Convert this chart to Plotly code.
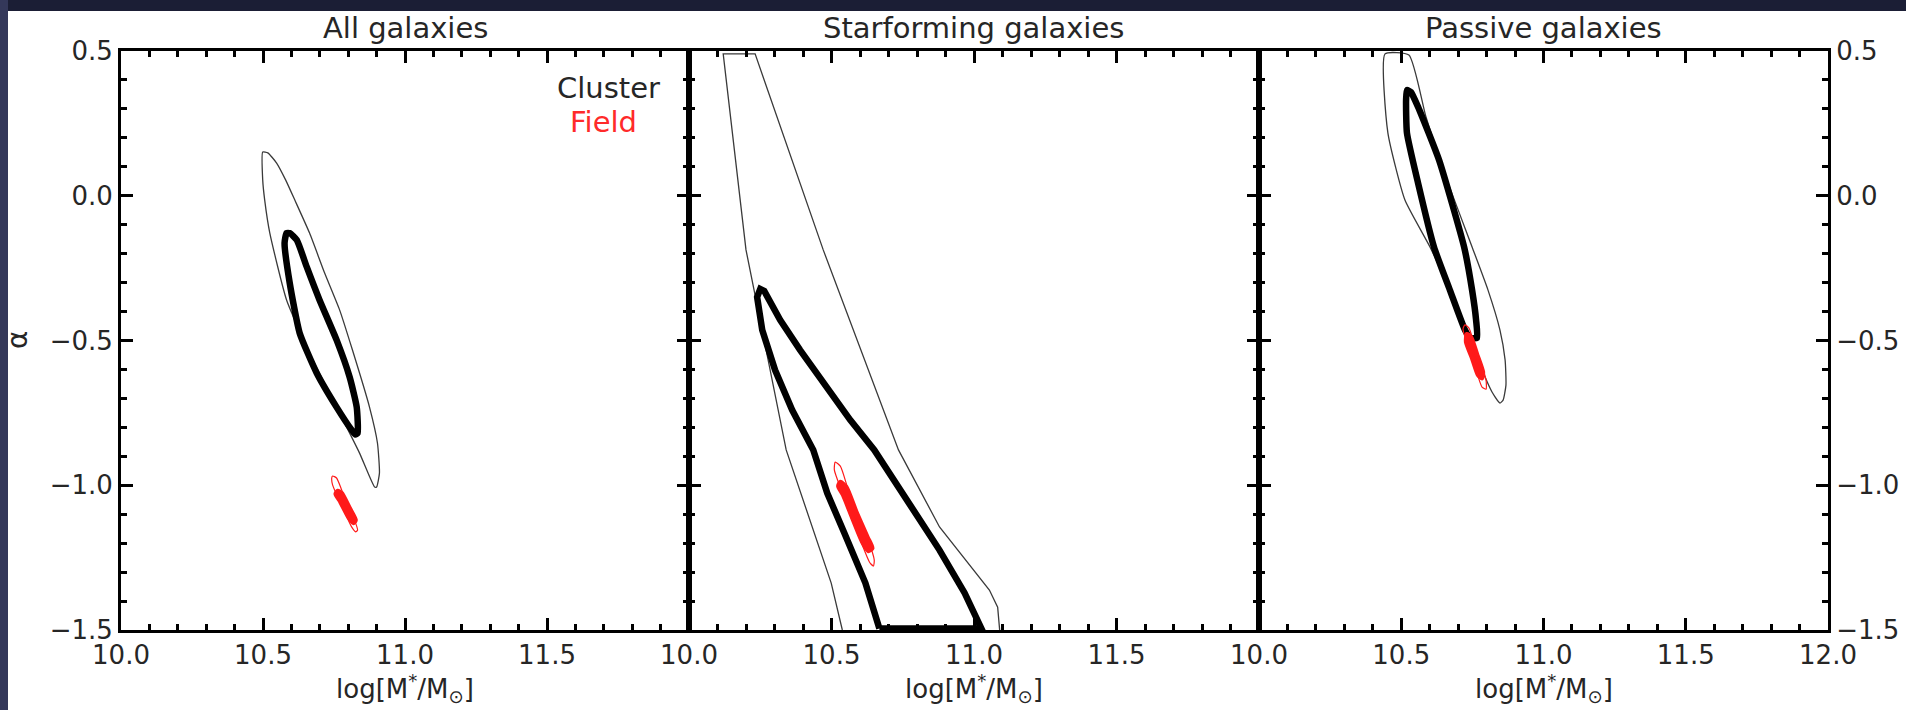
import plotly.graph_objects as go

W, H = 1906, 710

panel_titles = ["All galaxies", "Starforming galaxies", "Passive galaxies"]
x_title = "log[M<sup>*</sup>/M<sub>⊙</sub>]"
y_title = "α"
x_range = [10.0, 12.0]
y_range = [-1.5, 0.5]
x_tickvals_inner = [10.0, 10.5, 11.0, 11.5]
x_tickvals_last = [10.0, 10.5, 11.0, 11.5, 12.0]
y_tickvals = [-1.5, -1.0, -0.5, 0.0, 0.5]

# ---- Panel 1: All galaxies ----
all_cl_outer_x = [10.499, 10.517, 10.548, 10.580, 10.612, 10.664, 10.717, 10.770, 10.815, 10.875, 10.903, 10.910, 10.900, 10.893, 10.840, 10.759, 10.675, 10.583, 10.524, 10.506, 10.499, 10.499]
all_cl_outer_y = [0.151, 0.148, 0.113, 0.054, -0.015, -0.129, -0.267, -0.395, -0.533, -0.730, -0.854, -0.958, -1.006, -1.006, -0.889, -0.730, -0.567, -0.360, -0.129, -0.015, 0.054, 0.151]
all_cl_inner_x = [10.583, 10.594, 10.619, 10.654, 10.699, 10.759, 10.805, 10.830, 10.833, 10.825, 10.812, 10.759, 10.689, 10.629, 10.594, 10.576, 10.583]
all_cl_inner_y = [-0.129, -0.129, -0.153, -0.246, -0.360, -0.498, -0.626, -0.730, -0.820, -0.825, -0.809, -0.730, -0.612, -0.474, -0.301, -0.163, -0.129]
all_fd_outer_x = [10.745, 10.759, 10.777, 10.798, 10.822, 10.833, 10.826, 10.812, 10.787, 10.763, 10.745, 10.742, 10.745]
all_fd_outer_y = [-0.968, -0.975, -1.016, -1.068, -1.120, -1.155, -1.161, -1.144, -1.092, -1.041, -0.999, -0.975, -0.968]
all_fd_inner_x = [10.763, 10.777, 10.805, 10.826, 10.819, 10.801, 10.773, 10.756, 10.763]
all_fd_inner_y = [-1.020, -1.027, -1.079, -1.120, -1.130, -1.110, -1.058, -1.030, -1.020]

# ---- Panel 2: Starforming galaxies ----
sf_cl_outer_x = [10.538, 10.499, 10.341, 10.200, 10.120, 10.232, 10.471, 10.735, 10.879, 11.054, 11.083, 11.090]
sf_cl_outer_y = [-1.500, -1.338, -0.878, -0.187, 0.490, 0.490, -0.187, -0.878, -1.144, -1.362, -1.421, -1.500]
sf_cl_inner_x = [10.668, 10.619, 10.545, 10.485, 10.436, 10.362, 10.302, 10.257, 10.239, 10.250, 10.264, 10.320, 10.390, 10.478, 10.566, 10.650, 10.763, 10.879, 10.967, 11.026, 10.668]
sf_cl_inner_y = [-1.495, -1.338, -1.165, -1.027, -0.878, -0.740, -0.602, -0.464, -0.350, -0.322, -0.329, -0.429, -0.533, -0.654, -0.775, -0.878, -1.051, -1.224, -1.372, -1.495, -1.495]
sf_fd_outer_x = [10.513, 10.531, 10.559, 10.594, 10.629, 10.650, 10.647, 10.633, 10.601, 10.566, 10.534, 10.510, 10.513]
sf_fd_outer_y = [-0.920, -0.934, -1.016, -1.103, -1.189, -1.258, -1.279, -1.265, -1.189, -1.103, -1.016, -0.947, -0.920]
sf_fd_inner_x = [10.531, 10.552, 10.587, 10.626, 10.643, 10.629, 10.608, 10.573, 10.541, 10.524, 10.531]
sf_fd_inner_y = [-0.989, -1.006, -1.092, -1.179, -1.217, -1.227, -1.196, -1.113, -1.034, -1.003, -0.989]

# ---- Panel 3: Passive galaxies ----
pa_cl_outer_x = [10.443, 10.453, 10.513, 10.601, 10.671, 10.724, 10.777, 10.819, 10.847, 10.858, 10.868, 10.865, 10.847, 10.805, 10.749, 10.661, 10.587, 10.527, 10.443]
pa_cl_outer_y = [0.490, 0.217, -0.015, -0.177, -0.326, -0.446, -0.585, -0.678, -0.716, -0.706, -0.654, -0.567, -0.464, -0.326, -0.177, 0.054, 0.272, 0.486, 0.490]
pa_cl_inner_x = [10.520, 10.534, 10.559, 10.633, 10.721, 10.749, 10.763, 10.766, 10.742, 10.724, 10.671, 10.615, 10.559, 10.520, 10.517, 10.520]
pa_cl_inner_y = [0.365, 0.358, 0.307, 0.123, -0.177, -0.326, -0.429, -0.491, -0.491, -0.464, -0.326, -0.177, 0.044, 0.217, 0.331, 0.365]
pa_fd_outer_x = [10.724, 10.738, 10.756, 10.777, 10.798, 10.798, 10.784, 10.763, 10.742, 10.724, 10.717, 10.724]
pa_fd_outer_y = [-0.446, -0.457, -0.509, -0.567, -0.636, -0.668, -0.661, -0.602, -0.540, -0.488, -0.460, -0.446]
pa_fd_inner_x = [10.731, 10.745, 10.766, 10.787, 10.784, 10.770, 10.749, 10.728, 10.731]
pa_fd_inner_y = [-0.478, -0.488, -0.547, -0.609, -0.630, -0.619, -0.560, -0.505, -0.478]

legend_labels = ["Cluster", "Field"]

BLACK = "#000000"
THIN = "#3a3a3a"
RED = "#ff1a1a"
TXT = "#262626"
FONT = "DejaVu Sans"

panels = [
    (all_cl_outer_x, all_cl_outer_y, all_cl_inner_x, all_cl_inner_y,
     all_fd_outer_x, all_fd_outer_y, all_fd_inner_x, all_fd_inner_y, "spline"),
    (sf_cl_outer_x, sf_cl_outer_y, sf_cl_inner_x, sf_cl_inner_y,
     sf_fd_outer_x, sf_fd_outer_y, sf_fd_inner_x, sf_fd_inner_y, "linear"),
    (pa_cl_outer_x, pa_cl_outer_y, pa_cl_inner_x, pa_cl_inner_y,
     pa_fd_outer_x, pa_fd_outer_y, pa_fd_inner_x, pa_fd_inner_y, "spline"),
]

fig = go.Figure()
for i, (cox, coy, cix, ciy, fox, foy, fix, fiy, shp) in enumerate(panels):
    xa = "x" if i == 0 else f"x{i+1}"
    ya = "y" if i == 0 else f"y{i+1}"
    fig.add_trace(go.Scatter(x=cox, y=coy, mode="lines", xaxis=xa, yaxis=ya,
                             line=dict(color=THIN, width=1.3, shape=shp, smoothing=0.5),
                             hoverinfo="skip", showlegend=False))
    fig.add_trace(go.Scatter(x=cix, y=ciy, mode="lines", xaxis=xa, yaxis=ya,
                             line=dict(color=BLACK, width=6.5, shape=shp, smoothing=0.5),
                             hoverinfo="skip", showlegend=False))
    fig.add_trace(go.Scatter(x=fox, y=foy, mode="lines", xaxis=xa, yaxis=ya,
                             line=dict(color=RED, width=1.2, shape="spline", smoothing=0.6),
                             hoverinfo="skip", showlegend=False))
    fig.add_trace(go.Scatter(x=fix, y=fiy, mode="lines", xaxis=xa, yaxis=ya, fill="toself",
                             fillcolor=RED, line=dict(color=RED, width=4.5, shape="spline", smoothing=0.6),
                             hoverinfo="skip", showlegend=False))

# pixel layout
px_edges = [121, 689, 1259, 1828]
py_top, py_bot = 51, 630

def fx(p):
    return p / W

def fy(p):
    return 1 - p / H

ydom = [fy(py_bot), fy(py_top)]

axis_common = dict(
    showline=True, linecolor=BLACK, linewidth=3, mirror="ticks",
    ticks="inside", ticklen=12, tickwidth=3, tickcolor=BLACK,
    showgrid=False, zeroline=False, fixedrange=True, automargin=False,
    tickfont=dict(family=FONT, size=26, color=TXT),
)

layout_axes = {}
for i in range(3):
    xname = "xaxis" if i == 0 else f"xaxis{i+1}"
    yname = "yaxis" if i == 0 else f"yaxis{i+1}"
    layout_axes[xname] = dict(
        axis_common, domain=[fx(px_edges[i]), fx(px_edges[i+1])], range=x_range,
        anchor="y" if i == 0 else f"y{i+1}",
        tickmode="array", tickvals=x_tickvals_last if i == 2 else x_tickvals_inner,
        tickformat=".1f",
        minor=dict(ticks="inside", ticklen=6, tickwidth=3, tickcolor=BLACK,
                   tickmode="linear", tick0=10.0, dtick=0.1, showgrid=False),
    )
    layout_axes[yname] = dict(
        axis_common, domain=ydom, range=y_range,
        anchor="x" if i == 0 else f"x{i+1}",
        tickmode="array", tickvals=y_tickvals, tickformat=".1f",
        showticklabels=(i != 1), side="right" if i == 2 else "left",
        minor=dict(ticks="inside", ticklen=6, tickwidth=3, tickcolor=BLACK,
                   tickmode="linear", tick0=-1.5, dtick=0.1, showgrid=False),
    )

annotations = []
for i, t in enumerate(panel_titles):
    cx = (px_edges[i] + px_edges[i+1]) / 2
    annotations.append(dict(text=t, x=fx(cx), y=fy(28), xref="paper", yref="paper",
                            xanchor="center", yanchor="middle", showarrow=False,
                            font=dict(family=FONT, size=29, color=TXT)))
    annotations.append(dict(text=x_title, x=fx(cx), y=fy(709), xref="paper", yref="paper",
                            xanchor="center", yanchor="bottom", showarrow=False,
                            font=dict(family=FONT, size=26, color=TXT)))
annotations.append(dict(text=y_title, x=fx(17), y=fy(340), xref="paper", yref="paper",
                        xanchor="center", yanchor="middle", showarrow=False, textangle=-90,
                        font=dict(family=FONT, size=28, color=TXT)))
annotations.append(dict(text=legend_labels[0], x=fx(555), y=fy(88), xref="paper", yref="paper",
                        xanchor="left", yanchor="middle", showarrow=False,
                        font=dict(family=FONT, size=29, color=TXT)))
annotations.append(dict(text=legend_labels[1], x=fx(568), y=fy(122), xref="paper", yref="paper",
                        xanchor="left", yanchor="middle", showarrow=False,
                        font=dict(family=FONT, size=29, color="#ff2a2a")))

shapes = [
    dict(type="rect", xref="paper", yref="paper", x0=0, x1=fx(8), y0=0, y1=1,
         fillcolor="#34385a", line=dict(width=0), layer="below"),
    dict(type="rect", xref="paper", yref="paper", x0=fx(8), x1=1, y0=0, y1=fy(11),
         fillcolor="white", line=dict(width=0), layer="below"),
]

fig.update_layout(
    width=W, height=H, autosize=False,
    margin=dict(l=0, r=0, t=0, b=0, pad=0, autoexpand=False),
    paper_bgcolor="#1b1e35", plot_bgcolor="white",
    annotations=annotations, shapes=shapes, showlegend=False,
    **layout_axes,
)

fig.write_html("out.html", config=dict(displayModeBar=False, responsive=False))
